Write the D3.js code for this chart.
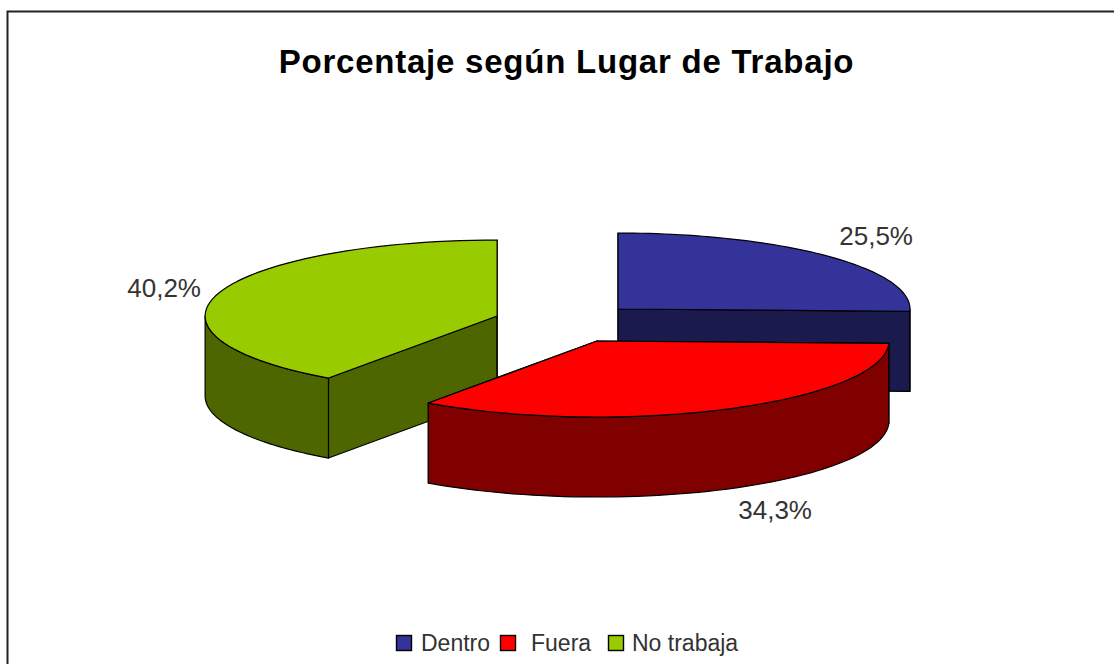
<!DOCTYPE html>
<html><head><meta charset="utf-8">
<script src="https://cdn.jsdelivr.net/npm/d3@7/dist/d3.min.js"></script>
<style>html,body{margin:0;padding:0;background:#fff}svg{display:block}text{font-family:"Liberation Sans",Arial,sans-serif}</style>
</head><body><svg id="c" width="1114" height="664"></svg>
<script>
const categories = ["Dentro", "Fuera", "No trabaja"];
const values = [25.5, 34.3, 40.2];
const valueLabels = ["25,5%", "34,3%", "40,2%"];
const topColors = ["#333399", "#ff0000", "#99cc00"];
const sideColors = ["#1a1a4d", "#800000", "#4d6600"];
const titleText = "Porcentaje según Lugar de Trabajo";

// Layout
const explodeX = [0.187, 0.115, -0.227];   // slice offset, in pie radii
const explodeY = [-0.184, 0.237, -0.092];
const depth = 80;
const labelAnchor = [[913, 245], [812, 519], [201, 297]];
const drawOrder = [2, 0, 1];

const svg = d3.select("#c");
const x = d3.scaleLinear().domain([-1, 1]).range([563.4 - 292, 563.4 + 292]);
const y = d3.scaleLinear().domain([-1, 1]).range([323 - 76, 323 + 76]);

const arcs = d3.pie().sort(null).value(d => d)(values);
const pt = (i, a, dz = 0) => [x(explodeX[i] + Math.sin(a)), y(explodeY[i] - Math.cos(a)) + dz];
const apex = (i, dz = 0) => [x(explodeX[i]), y(explodeY[i]) + dz];
const sweep = (i, a0, a1, dz) => d3.range(0, 61).map(k => pt(i, a0 + (a1 - a0) * k / 60, dz));
const line = d3.line();
const shape = pts => line(pts) + "Z";
const paint = (sel, d, fill) => sel.append("path").attr("d", d).attr("fill", fill)
  .attr("stroke", "#000").attr("stroke-width", 1.2).attr("stroke-linejoin", "round");

// Frame: top and left rules only
svg.append("path").attr("d", "M7.5,664V11.5H1114").attr("fill", "none").attr("stroke", "#222").attr("stroke-width", 2);

drawOrder.forEach(i => {
  const {startAngle: a0, endAngle: a1} = arcs[i];
  const g = svg.append("g").attr("class", "slice");
  const side = sideColors[i];
  [a0, a1].forEach(a => paint(g, shape([apex(i), pt(i, a), pt(i, a, depth), apex(i, depth)]), side));
  const w0 = Math.max(a0, Math.PI / 2), w1 = Math.min(a1, Math.PI * 1.5);
  if (w1 > w0) paint(g, shape([...sweep(i, w0, w1, 0), ...sweep(i, w1, w0, depth)]), side);
  paint(g, shape([apex(i), ...sweep(i, a0, a1, 0)]), topColors[i]);
});

svg.append("text").attr("x", 566.5).attr("y", 73).attr("text-anchor", "middle")
  .attr("font-size", 33).attr("font-weight", "bold").attr("letter-spacing", 0.77).attr("fill", "#000").text(titleText);

valueLabels.forEach((t, i) => svg.append("text")
  .attr("x", labelAnchor[i][0]).attr("y", labelAnchor[i][1]).attr("text-anchor", "end")
  .attr("font-size", 26).attr("fill", "#333").text(t));

const legendSwatch = [396, 500, 608], legendText = [421, 531, 632];
categories.forEach((c, i) => {
  svg.append("rect").attr("x", legendSwatch[i] + .5).attr("y", 635.5).attr("width", 15).attr("height", 15)
    .attr("fill", topColors[i]).attr("stroke", "#000").attr("stroke-width", 1.4);
  svg.append("text").attr("x", legendText[i]).attr("y", 651).attr("font-size", 23).attr("fill", "#333").text(c);
});
</script></body></html>
